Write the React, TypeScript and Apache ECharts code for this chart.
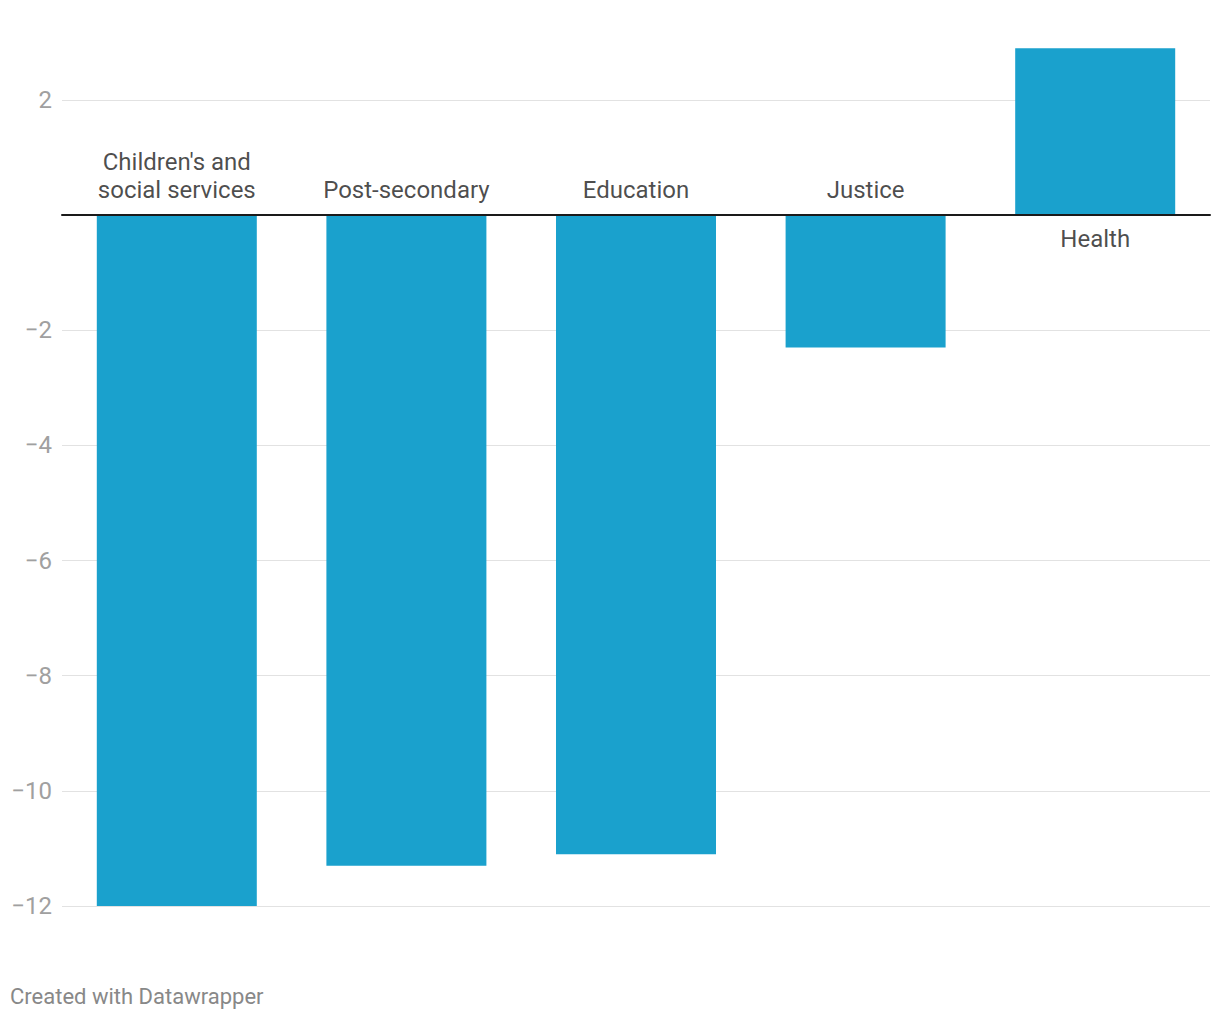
import React, { useEffect, useRef } from "react";
import * as echarts from "echarts";

const categories = ["Children's and\nsocial services", "Post-secondary", "Education", "Justice", "Health"];
const values = [-12, -11.3, -11.1, -2.3, 2.9];
const yTicks = { min: -12, max: 2, interval: 2 };

export default function App() {
  const ref = useRef<HTMLDivElement>(null);
  useEffect(() => {
    const chart = echarts.init(ref.current!, null, { renderer: "svg" });
    chart.setOption({
      animation: false,
      textStyle: { fontFamily: "Roboto" },
      grid: { left: 62, right: 10, top: 100, bottom: 114, containLabel: false },
      xAxis: {
        type: "category",
        data: categories,
        axisLine: { show: true, onZero: true, lineStyle: { color: "#1a1a1a", width: 2 } },
        axisTick: { show: false },
        axisLabel: { show: false },
        splitLine: { show: false },
        z: 10,
      },
      yAxis: {
        type: "value",
        min: yTicks.min,
        max: yTicks.max,
        interval: yTicks.interval,
        axisLine: { show: false },
        axisTick: { show: false },
        splitLine: { lineStyle: { color: "#e2e2e2", width: 1 } },
        axisLabel: {
          color: "#a0a0a0",
          fontSize: 24,
          fontFamily: "Roboto",
          margin: 10,
          formatter: (v: number) => (v === 0 ? "" : String(v).replace("-", "\u2212")),
        },
      },
      series: [
        {
          type: "bar",
          data: values,
          barWidth: 160,
          clip: false,
          itemStyle: { color: "#1aa1cd" },
          z: 2,
        },
        {
          type: "scatter",
          symbolSize: 0,
          z: 5,
          data: values.map((v, i) => ({
            value: [i, 0],
            label: {
              show: true,
              position: v < 0 ? "top" : "bottom",
              distance: v < 0 ? 11 : 10,
              formatter: categories[i],
              color: "#1d1d1d",
              fontSize: 24,
              lineHeight: 28,
              fontFamily: "Roboto",
              align: "center",
            },
          })),
        },
      ],
      graphic: [
        {
          type: "text",
          left: 10,
          top: 985,
          style: {
            text: "Created with Datawrapper",
            fill: "#888",
            fontSize: 22,
            fontFamily: "Roboto",
          },
        },
      ],
    });
    return () => chart.dispose();
  }, []);
  return <div ref={ref} style={{ position: "fixed", left: 0, top: 0, width: 1220, height: 1020, background: "#fff" }} />;
}
